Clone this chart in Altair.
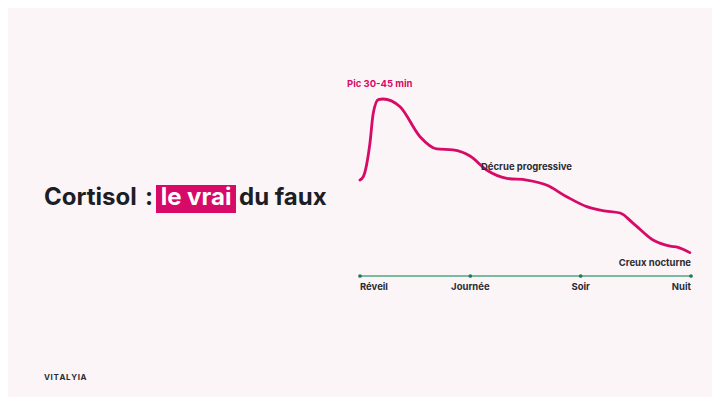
import altair as alt
import pandas as pd

# ---- data ----
curve_t = [0.0, 0.03, 0.09, 0.12, 0.166, 0.208, 0.363, 0.544, 0.695, 0.843, 0.997,
           1.148, 1.33, 1.51, 1.69, 1.873, 2.055, 2.2, 2.357, 2.474, 2.656, 2.81, 2.882, 2.99]
curve_level = [54.2, 56.1, 75.0, 91.9, 99.6, 100.0, 95.6, 78.7, 71.8, 71.2, 67.8,
               59.9, 55.2, 54.2, 51.4, 44.8, 39.2, 36.9, 35.6, 29.9, 20.3, 16.9, 16.2, 13.2]
axis_pos = [0, 1, 2, 3]
axis_labels = ["Réveil", "Journée", "Soir", "Nuit"]
axis_align = ["left", "center", "center", "right"]

PINK = "#d70a67"
DARK = "#1c1e26"
GRAY = "#2b2c33"
GREEN_LINE = "#4fa783"
GREEN_DOT = "#1f7a55"
BG = "#fcf5f7"
FONT = "Inter"

W, H = 704, 389
xs = alt.Scale(domain=[0, 3], range=[352, 683])
ys = alt.Scale(domain=[0, 100], range=[268, 91])

curve_df = pd.DataFrame({"t": curve_t, "level": curve_level})
axis_df = pd.DataFrame({"t": axis_pos, "label": axis_labels, "align": axis_align, "level": [0] * 4})

X = lambda: alt.X("t:Q", scale=xs, axis=None)
Y = lambda: alt.Y("level:Q", scale=ys, axis=None)

curve = alt.Chart(curve_df).mark_line(
    color=PINK, strokeWidth=2.8, interpolate="monotone", strokeCap="round"
).encode(x=X(), y=Y())

baseline = alt.Chart(axis_df).mark_line(color=GREEN_LINE, strokeWidth=1.6).encode(x=X(), y=Y())
dots = alt.Chart(axis_df).mark_circle(color=GREEN_DOT, size=14, opacity=1).encode(x=X(), y=Y())

labels = []
for a in ["left", "center", "right"]:
    labels.append(
        alt.Chart(axis_df).transform_filter(alt.datum.align == a).mark_text(
            align=a, baseline="top", dy=6, font=FONT, fontSize=9.5, fontWeight="bold", color=GRAY
        ).encode(x=X(), y=Y(), text="label:N")
    )

def txt(s, x, y, size, color, align="left", weight="bold", baseline="middle"):
    return alt.Chart(pd.DataFrame({"s": [s]})).mark_text(
        align=align, baseline=baseline, font=FONT, fontSize=size, fontWeight=weight, color=color
    ).encode(x=alt.value(x), y=alt.value(y), text="s:N")

box = alt.Chart(pd.DataFrame({"a": [0]})).mark_rect(color=PINK).encode(
    x=alt.value(148), x2=alt.value(228), y=alt.value(177), y2=alt.value(205)
)

layers = [
    box,
    txt("Cortisol", 36, 197, 24, DARK, baseline="alphabetic"),
    txt(":", 137, 197, 24, DARK, baseline="alphabetic"),
    txt("le vrai", 188, 197, 24, "white", align="center", baseline="alphabetic"),
    txt("du faux", 231, 197, 24, DARK, baseline="alphabetic"),
    txt("V\u200aI\u200aT\u200aA\u200aL\u200aY\u200aI\u200aA", 36, 370, 8, GRAY),
    baseline, dots, curve, *labels,
    txt("Pic 30-45 min", 339, 76, 9.5, PINK),
    txt("Décrue progressive", 473, 159, 9.5, GRAY),
    txt("Creux nocturne", 683, 255, 9.5, GRAY, align="right"),
]

chart = alt.layer(*layers).properties(
    width=W, height=H, background=BG, padding=0,
    autosize=alt.AutoSizeParams(type="none"),
).configure_view(stroke=None)

chart.save("out.html", embed_options={"renderer": "svg", "actions": False})
